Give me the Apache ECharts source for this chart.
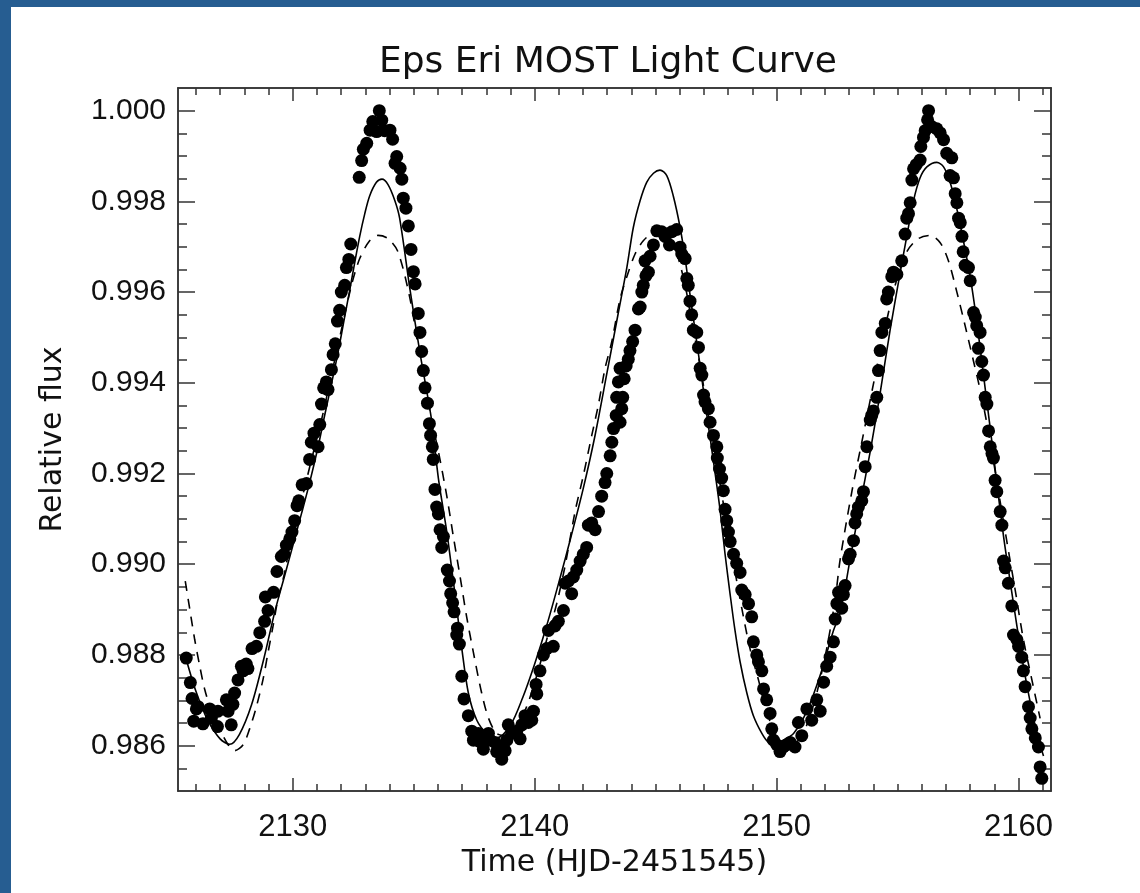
<!DOCTYPE html>
<html>
<head>
<meta charset="utf-8">
<script src="https://cdn.jsdelivr.net/npm/echarts@6/dist/echarts.min.js"></script>
<style>
  html, body { margin: 0; padding: 0; background: #fff; }
  #chart { width: 1140px; height: 893px; }
</style>
</head>
<body>
<div id="chart"></div>
<script>
// observed MOST photometry (time, relative flux)
const obsTime = [
  2125.60, 2125.77, 2125.84, 2126.09, 2126.02, 2125.91, 2126.29, 2126.57, 2126.64, 2126.91,
  2126.89, 2127.26, 2127.33, 2127.46, 2127.53, 2127.60, 2127.74, 2127.88, 2127.95, 2128.08,
  2128.15, 2128.32, 2128.50, 2128.64, 2128.84, 2128.98, 2128.87, 2129.21, 2129.35, 2129.53,
  2129.64, 2129.74, 2129.88, 2129.97, 2130.08, 2130.18, 2130.25, 2130.39, 2130.57, 2130.70,
  2130.77, 2130.88, 2131.05, 2131.12, 2131.19, 2131.28, 2131.39, 2131.46, 2131.60, 2131.67,
  2131.76, 2131.85, 2131.94, 2132.01, 2132.15, 2132.22, 2132.32, 2132.40,
  2132.75, 2132.85, 2132.92, 2133.06, 2133.20, 2133.31, 2133.47, 2133.58, 2133.68, 2133.80,
  2134.02, 2134.13, 2134.23, 2134.30, 2134.44, 2134.51, 2134.57, 2134.68, 2134.78, 2134.89,
  2134.99, 2135.06,
  2135.19, 2135.26, 2135.33, 2135.40, 2135.47, 2135.57, 2135.65, 2135.70, 2135.77, 2135.81,
  2135.88, 2135.95, 2136.02, 2136.09, 2136.23, 2136.16, 2136.39, 2136.48, 2136.53, 2136.61,
  2136.67, 2136.81, 2136.78, 2136.89, 2136.99, 2137.08, 2137.26, 2137.40, 2137.47, 2137.67,
  2137.74, 2137.88, 2138.09, 2138.16, 2138.36, 2138.43, 2138.64, 2138.57, 2138.78, 2138.85,
  2138.91, 2139.05, 2139.26, 2139.40, 2139.47, 2139.60, 2139.74, 2139.88, 2139.95, 2140.09,
  2140.06, 2140.22, 2140.36, 2140.50, 2140.57, 2140.77, 2140.84, 2140.98, 2141.19, 2141.26,
  2141.40, 2141.53, 2141.60, 2141.74, 2141.88, 2142.01, 2142.15, 2142.22, 2142.36, 2142.50,
  2142.64, 2142.77, 2142.91, 2142.98, 2143.12, 2143.19, 2143.26, 2143.37, 2143.39, 2143.46,
  2143.53,
  2143.53, 2143.60, 2143.64, 2143.70, 2143.78, 2143.87, 2143.94, 2144.05, 2144.15, 2144.29,
  2144.36, 2144.43, 2144.49, 2144.60, 2144.70, 2144.56, 2144.77, 2144.91, 2145.05, 2145.25,
  2145.39, 2145.57, 2145.67, 2145.87, 2146.01, 2146.08, 2146.22, 2146.29, 2146.35, 2146.42,
  2146.49, 2146.56, 2146.70, 2146.77, 2146.84, 2146.91, 2146.98, 2147.04, 2147.18, 2147.25,
  2147.39, 2147.53, 2147.55, 2147.64, 2147.73, 2147.80, 2147.87, 2147.94, 2148.01, 2148.08,
  2148.22, 2148.35, 2148.49, 2148.56, 2148.70, 2148.84, 2148.97, 2149.04, 2149.18, 2149.25,
  2149.39, 2149.46, 2149.59, 2149.73, 2149.80, 2149.87, 2150.01, 2150.14, 2150.28, 2150.42,
  2150.56, 2150.76, 2150.90, 2151.04, 2151.25, 2151.45, 2151.66, 2151.80, 2151.94, 2152.07,
  2152.21, 2152.35, 2152.42, 2152.49, 2152.56,
  2152.69, 2152.76, 2152.83, 2152.97, 2153.04, 2153.18, 2153.24, 2153.31, 2153.38, 2153.52,
  2153.59, 2153.66, 2153.73, 2153.87, 2153.93, 2154.00, 2154.14, 2154.21, 2154.28, 2154.35,
  2154.49, 2154.55, 2154.62, 2154.76, 2154.83, 2154.97, 2155.17, 2155.31, 2155.38, 2155.45,
  2155.52, 2155.59, 2155.66, 2155.77, 2155.93, 2155.96, 2156.07, 2156.14, 2156.28, 2156.24,
  2156.41, 2156.62, 2156.76, 2156.90, 2157.03, 2157.24, 2157.17, 2157.31, 2157.38, 2157.45,
  2157.52, 2157.59, 2157.66, 2157.71, 2157.79, 2157.93, 2158.00, 2158.14, 2158.21, 2158.27,
  2158.41, 2158.34, 2158.48, 2158.55, 2158.62, 2158.69, 2158.76, 2158.83, 2158.90, 2158.96,
  2159.03, 2159.10, 2159.24, 2159.31, 2159.38, 2159.45, 2159.58, 2159.72, 2159.79, 2159.93,
  2160.00, 2160.13, 2160.20, 2160.27, 2160.41, 2160.48, 2160.55, 2160.69, 2160.82, 2160.89,
  2160.96
];
const obsFlux = [
  0.98793, 0.98739, 0.98704, 0.98686, 0.98681, 0.98654, 0.98648, 0.98681, 0.98661, 0.98676,
  0.98642, 0.98701, 0.98676, 0.98646, 0.98691, 0.98716, 0.98745, 0.98775, 0.98765, 0.98780,
  0.98770, 0.98814, 0.98819, 0.98849, 0.98874, 0.98898, 0.98928, 0.98938, 0.98984, 0.99017,
  0.99022, 0.99042, 0.99056, 0.99071, 0.99096, 0.99129, 0.99140, 0.99175, 0.99178, 0.99231,
  0.99269, 0.99289, 0.99259, 0.99308, 0.99353, 0.99389, 0.99402, 0.99385, 0.99429, 0.99462,
  0.99486, 0.99536, 0.99560, 0.99600, 0.99615, 0.99654, 0.99672, 0.99706,
  0.99853, 0.99890, 0.99915, 0.99928, 0.99957, 0.99976, 0.99954, 1.00000, 0.99979, 0.99956,
  0.99957, 0.99937, 0.99884, 0.99899, 0.99873, 0.99849, 0.99807, 0.99785, 0.99746, 0.99694,
  0.99645, 0.99618,
  0.99553, 0.99511, 0.99469, 0.99427, 0.99389, 0.99355, 0.99310, 0.99284, 0.99259, 0.99231,
  0.99165, 0.99126, 0.99111, 0.99076, 0.99061, 0.99037, 0.98987, 0.98963, 0.98935, 0.98915,
  0.98895, 0.98859, 0.98844, 0.98824, 0.98753, 0.98703, 0.98666, 0.98632, 0.98612, 0.98627,
  0.98609, 0.98592, 0.98627, 0.98612, 0.98607, 0.98587, 0.98570, 0.98597, 0.98589, 0.98612,
  0.98646, 0.98627, 0.98632, 0.98615, 0.98646, 0.98666, 0.98651, 0.98656, 0.98676, 0.98714,
  0.98735, 0.98765, 0.98800, 0.98814, 0.98854, 0.98819, 0.98864, 0.98874, 0.98898, 0.98958,
  0.98963, 0.98935, 0.98972, 0.98987, 0.99007, 0.99022, 0.99037, 0.99086, 0.99091, 0.99076,
  0.99116, 0.99150, 0.99180, 0.99200, 0.99239, 0.99269, 0.99299, 0.99328, 0.99368, 0.99402,
  0.99432,
  0.99313, 0.99343, 0.99368, 0.99409, 0.99437, 0.99452, 0.99471, 0.99491, 0.99516, 0.99563,
  0.99567, 0.99600, 0.99615, 0.99636, 0.99644, 0.99669, 0.99679, 0.99704, 0.99735, 0.99733,
  0.99723, 0.99704, 0.99733, 0.99738, 0.99699, 0.99684, 0.99674, 0.99630, 0.99615, 0.99580,
  0.99550, 0.99516, 0.99511, 0.99478, 0.99432, 0.99417, 0.99373, 0.99358, 0.99343, 0.99313,
  0.99284, 0.99259, 0.99234, 0.99210, 0.99190, 0.99162, 0.99121, 0.99096, 0.99071, 0.99050,
  0.99022, 0.99002, 0.98982, 0.98943, 0.98933, 0.98913, 0.98884, 0.98829, 0.98800, 0.98785,
  0.98765, 0.98725, 0.98701, 0.98671, 0.98637, 0.98612, 0.98602, 0.98587, 0.98597, 0.98602,
  0.98607, 0.98597, 0.98651, 0.98622, 0.98681, 0.98656, 0.98701, 0.98676, 0.98740, 0.98775,
  0.98795, 0.98829, 0.98879, 0.98913, 0.98938,
  0.98903, 0.98933, 0.98953, 0.99012, 0.99022, 0.99052, 0.99091, 0.99111, 0.99126, 0.99140,
  0.99160, 0.99215, 0.99259, 0.99318, 0.99328, 0.99338, 0.99368, 0.99427, 0.99471, 0.99511,
  0.99531, 0.99585, 0.99600, 0.99634, 0.99644, 0.99639, 0.99669, 0.99728, 0.99763, 0.99773,
  0.99797, 0.99847, 0.99872, 0.99881, 0.99891, 0.99921, 0.99941, 0.99956, 1.00000, 0.99980,
  0.99965, 0.99960, 0.99951, 0.99936, 0.99906, 0.99896, 0.99857, 0.99852, 0.99817, 0.99797,
  0.99763, 0.99753, 0.99723, 0.99689, 0.99659, 0.99654, 0.99625, 0.99555, 0.99545, 0.99526,
  0.99511, 0.99476, 0.99447, 0.99417, 0.99368, 0.99353, 0.99294, 0.99259, 0.99244, 0.99234,
  0.99185, 0.99160, 0.99116, 0.99086, 0.99007, 0.98992, 0.98958, 0.98908, 0.98844, 0.98834,
  0.98819, 0.98795, 0.98765, 0.98730, 0.98686, 0.98661, 0.98637, 0.98617, 0.98597, 0.98553,
  0.98528
];

// spot model, solid curve
const fitTime = [
  2125.55, 2126.00, 2126.50, 2127.00, 2127.40, 2127.80, 2128.30, 2128.80, 2129.26, 2129.67,
  2130.01, 2130.36, 2130.70, 2131.05, 2131.32, 2131.60, 2131.87, 2132.15, 2132.36, 2132.56,
  2132.77, 2132.98, 2133.18, 2133.46, 2133.69, 2133.94, 2134.22, 2134.42, 2134.85, 2135.26,
  2135.74, 2136.02, 2136.37, 2136.71, 2136.99, 2137.26, 2137.61, 2138.02, 2138.43, 2139.00,
  2139.50, 2140.00, 2140.50, 2141.00, 2141.50, 2142.00, 2142.50, 2143.00, 2143.46, 2143.81,
  2144.08, 2144.36, 2144.63, 2144.91, 2145.18, 2145.46, 2145.73, 2146.01, 2146.22, 2146.42,
  2146.63, 2146.84, 2147.04, 2147.25, 2147.46, 2147.66, 2147.87, 2148.08, 2148.28, 2148.49,
  2148.77, 2149.04, 2149.39, 2149.66, 2149.90, 2150.20, 2150.70, 2151.25, 2151.80, 2152.35,
  2152.63, 2153.04, 2153.45, 2153.87, 2154.28, 2154.69, 2155.11, 2155.38, 2155.66, 2155.93,
  2156.21, 2156.62, 2156.90, 2157.17, 2157.45, 2157.72, 2158.00, 2158.27, 2158.55, 2158.83,
  2159.10, 2159.38, 2159.65, 2159.93, 2160.20, 2160.48, 2160.76, 2161.03
];
const fitFlux = [
  0.98800, 0.98720, 0.98655, 0.98615, 0.98603, 0.98625, 0.98690, 0.98790, 0.98895, 0.98975,
  0.99042, 0.99111, 0.99180, 0.99259, 0.99328, 0.99397, 0.99466, 0.99546, 0.99605, 0.99664,
  0.99723, 0.99773, 0.99812, 0.99842, 0.99849, 0.99837, 0.99802, 0.99763, 0.99605, 0.99466,
  0.99318, 0.99190, 0.99071, 0.98933, 0.98814, 0.98716, 0.98656, 0.98627, 0.98617, 0.98645,
  0.98705, 0.98780, 0.98865, 0.98960, 0.99060, 0.99165, 0.99285, 0.99425, 0.99555, 0.99654,
  0.99743, 0.99802, 0.99842, 0.99862, 0.99869, 0.99857, 0.99812, 0.99743, 0.99674, 0.99595,
  0.99516, 0.99437, 0.99358, 0.99279, 0.99200, 0.99121, 0.99022, 0.98933, 0.98854, 0.98785,
  0.98716, 0.98666, 0.98627, 0.98607, 0.98602, 0.98610, 0.98627, 0.98676, 0.98755, 0.98854,
  0.98893, 0.99012, 0.99131, 0.99249, 0.99378, 0.99516, 0.99644, 0.99723, 0.99802, 0.99852,
  0.99876, 0.99886, 0.99876, 0.99842, 0.99783, 0.99713, 0.99634, 0.99536, 0.99417, 0.99299,
  0.99180, 0.99061, 0.98963, 0.98864, 0.98775, 0.98696, 0.98627, 0.98577
];

// second model, dashed curve
const altTime = [
  2125.56, 2125.74, 2125.95, 2126.16, 2126.36, 2126.64, 2126.98, 2127.33, 2127.60, 2127.95,
  2128.22, 2128.50, 2128.77, 2128.98, 2129.19, 2129.39, 2129.67, 2129.95, 2130.36, 2130.77,
  2131.19, 2131.60, 2132.01, 2132.43, 2132.77, 2133.18, 2133.53, 2133.94, 2134.35, 2134.85,
  2135.26, 2135.74, 2136.02, 2136.37, 2136.64, 2136.92, 2137.19, 2137.47, 2137.81, 2138.09,
  2138.43, 2138.85, 2139.26, 2139.67, 2140.09, 2140.50, 2140.91, 2141.26, 2141.67, 2142.01,
  2142.36, 2142.64, 2142.91, 2143.19, 2143.53, 2143.81, 2144.15, 2144.49, 2144.91, 2145.32,
  2145.67, 2145.94, 2146.22, 2146.49, 2146.84, 2147.18, 2147.53, 2147.87, 2148.22, 2148.56,
  2148.90, 2149.25, 2149.59, 2150.01, 2150.42, 2150.83, 2151.25, 2151.66, 2152.07, 2152.42,
  2152.63, 2153.11, 2153.52, 2154.00, 2154.42, 2154.90, 2155.38, 2155.86, 2156.35, 2156.76,
  2157.10, 2157.45, 2157.79, 2158.14, 2158.48, 2158.83, 2159.17, 2159.51, 2159.86, 2160.20,
  2160.55, 2160.89
];
const altFlux = [
  0.98963, 0.98903, 0.98834, 0.98775, 0.98725, 0.98676, 0.98637, 0.98602, 0.98589, 0.98602,
  0.98637, 0.98686, 0.98745, 0.98805, 0.98864, 0.98923, 0.98982, 0.99061, 0.99140, 0.99229,
  0.99318, 0.99417, 0.99516, 0.99615, 0.99674, 0.99713, 0.99725, 0.99718, 0.99689, 0.99585,
  0.99457, 0.99318, 0.99249, 0.99150, 0.99061, 0.98972, 0.98884, 0.98805, 0.98716, 0.98661,
  0.98627, 0.98622, 0.98642, 0.98686, 0.98755, 0.98834, 0.98913, 0.98997, 0.99116, 0.99195,
  0.99284, 0.99353, 0.99432, 0.99491, 0.99585, 0.99634, 0.99684, 0.99713, 0.99731, 0.99733,
  0.99713, 0.99674, 0.99615, 0.99536, 0.99437, 0.99328, 0.99219, 0.99111, 0.99002, 0.98903,
  0.98814, 0.98745, 0.98676, 0.98617, 0.98597, 0.98607, 0.98646, 0.98716, 0.98814, 0.98923,
  0.99012, 0.99160, 0.99269, 0.99397, 0.99506, 0.99615, 0.99689, 0.99718, 0.99725, 0.99709,
  0.99669, 0.99600, 0.99526, 0.99447, 0.99368, 0.99269, 0.99160, 0.99052, 0.98943, 0.98834,
  0.98745, 0.98660
];

// axis ticks
const xMajor = [2130, 2140, 2150, 2160];
const xMinor = [2126, 2127, 2128, 2129, 2131, 2132, 2133, 2134, 2135, 2136, 2137, 2138, 2139,
  2141, 2142, 2143, 2144, 2145, 2146, 2147, 2148, 2149, 2151, 2152, 2153, 2154, 2155, 2156,
  2157, 2158, 2159, 2161];
const yMajor = [0.986, 0.988, 0.990, 0.992, 0.994, 0.996, 0.998, 1.000];
const yMinor = [0.9855, 0.9865, 0.9870, 0.9875, 0.9885, 0.9890, 0.9895, 0.9905, 0.9910, 0.9915,
  0.9925, 0.9930, 0.9935, 0.9945, 0.9950, 0.9955, 0.9965, 0.9970, 0.9975, 0.9985, 0.9990, 0.9995];

const xMin = 2125.26, xMax = 2161.34;
const yMin = 0.985, yMax = 1.0005;

const axisColor = '#333';
const numFont = 'Liberation Sans';
const textFont = 'DejaVu Sans';

function xAx(pos, ticks, len, labels) {
  return {
    type: 'value', position: pos, min: xMin, max: xMax,
    axisLine: { show: true, onZero: false, lineStyle: { color: axisColor, width: 1.5 } },
    axisTick: { show: true, inside: true, length: len, customValues: ticks,
      lineStyle: { color: axisColor, width: 1.5 } },
    axisLabel: labels ? { show: true, customValues: ticks, margin: 21, fontSize: 31,
      fontFamily: numFont, color: '#111', formatter: v => String(Math.round(v)) } : { show: false },
    splitLine: { show: false }
  };
}
function yAx(pos, ticks, len, labels) {
  return {
    type: 'value', position: pos, min: yMin, max: yMax,
    axisLine: { show: true, onZero: false, lineStyle: { color: axisColor, width: 1.5 } },
    axisTick: { show: true, inside: true, length: len, customValues: ticks,
      lineStyle: { color: axisColor, width: 1.5 } },
    axisLabel: labels ? { show: true, customValues: ticks, margin: 12, fontSize: 30,
      fontFamily: numFont, color: '#111', formatter: v => v.toFixed(3) } : { show: false },
    splitLine: { show: false }
  };
}

const xMain = xAx('bottom', xMajor, 13, true);
xMain.name = 'Time (HJD-2451545)';
xMain.nameLocation = 'middle';
xMain.nameGap = 56;
xMain.nameTextStyle = { fontSize: 30, fontFamily: textFont, color: '#111' };

const yMain = yAx('left', yMajor, 17, true);
yMain.name = 'Relative flux';
yMain.nameLocation = 'middle';
yMain.nameGap = 110;
yMain.nameTextStyle = { fontSize: 30, fontFamily: textFont, color: '#111' };

const chart = echarts.init(document.getElementById('chart'));
chart.setOption({
  backgroundColor: '#fff',
  animation: false,
  title: {
    text: 'Eps Eri MOST Light Curve',
    left: 374, top: 40,
    textStyle: { fontSize: 36, fontWeight: 'normal', fontFamily: textFont, color: '#111' }
  },
  graphic: [
    { type: 'rect', shape: { x: 0, y: 0, width: 1140, height: 7 }, style: { fill: '#265d91' } },
    { type: 'rect', shape: { x: 0, y: 0, width: 11, height: 893 }, style: { fill: '#265d91' } }
  ],
  grid: { left: 178, right: 89, top: 88, bottom: 102, containLabel: false },
  xAxis: [
    xMain,
    xAx('bottom', xMinor, 7, false),
    xAx('top', xMajor, 13, false),
    xAx('top', xMinor, 7, false)
  ],
  yAxis: [
    yMain,
    yAx('left', yMinor, 9, false),
    yAx('right', yMajor, 17, false),
    yAx('right', yMinor, 9, false)
  ],
  series: [
    {
      name: 'model', type: 'line', symbol: 'none', smooth: 0.3,
      data: fitTime.map((t, i) => [t, fitFlux[i]]),
      lineStyle: { color: '#000', width: 1.6 }
    },
    {
      name: 'model 2', type: 'line', symbol: 'none', smooth: 0.3,
      data: altTime.map((t, i) => [t, altFlux[i]]),
      lineStyle: { color: '#000', width: 1.6, type: [10, 8] }
    },
    {
      name: 'MOST', type: 'scatter', symbol: 'circle', symbolSize: 13,
      data: obsTime.map((t, i) => [t, obsFlux[i]]),
      itemStyle: { color: '#000', opacity: 1 }
    }
  ]
});
</script>
</body>
</html>
